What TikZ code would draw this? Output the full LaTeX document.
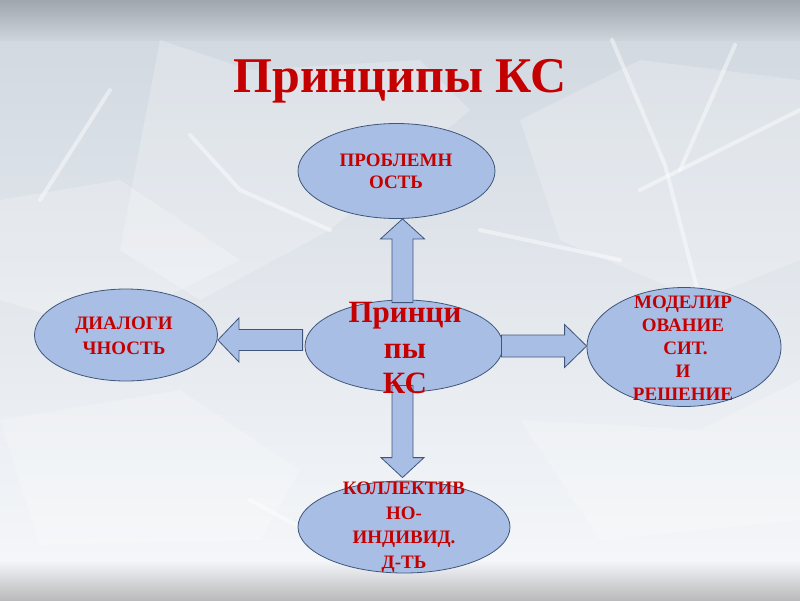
\documentclass[tikz,border=0pt]{standalone}
\usepackage{fontspec}
\setmainfont{Liberation Serif}
\usetikzlibrary{shapes.geometric,calc}
\definecolor{ellfill}{RGB}{169,190,229}
\definecolor{elldraw}{RGB}{62,86,122}
\definecolor{txtred}{RGB}{196,0,0}
\definecolor{bandtop}{RGB}{160,166,174}
\definecolor{bandbot}{RGB}{206,212,219}
\definecolor{bgtop}{RGB}{210,217,225}
\definecolor{bgbot}{RGB}{244,246,249}
\definecolor{footgray}{RGB}{186,186,188}
\tikzset{
  ell/.style={ellipse, draw=elldraw, fill=ellfill, line width=0.8pt, inner sep=0pt},
  blockarrow/.style={draw=elldraw, fill=ellfill, line width=0.8pt, line join=miter},
  lbl/.style={text=txtred, font=\bfseries, align=center, inner sep=0pt},
  ice/.style={fill=white, opacity=0.22, draw=none},
  icel/.style={draw=white, opacity=0.45, line width=4pt, line cap=round}
}
\newcommand\blockarr[5]{%
  \coordinate (bh) at ($(#2)!#5!(#1)$);
  \draw[blockarrow] ($(#1)!#3!90:(#2)$) -- ($(bh)!#3!90:(#2)$) -- ($(bh)!#4!90:(#2)$)
    -- (#2) -- ($(bh)!#4!-90:(#2)$) -- ($(bh)!#3!-90:(#2)$) -- ($(#1)!#3!-90:(#2)$) -- cycle;}
\begin{document}
\begin{tikzpicture}[x=1pt,y=-1pt]
\useasboundingbox (0,0) rectangle (800,600);
% background
\shade[top color=bgtop, bottom color=bgbot] (0,40) rectangle (800,560);
\shade[top color=bandtop, bottom color=bandbot] (0,0) rectangle (800,40);
\shade[top color=bgbot, bottom color=footgray] (0,560) rectangle (800,600);
% icy decoration
\fill[ice] (160,40) -- (250,70) -- (420,60) -- (470,110) -- (330,230) -- (200,300) -- (120,250) -- cycle;
\fill[ice] (0,200) -- (120,180) -- (240,260) -- (100,330) -- (0,300) -- cycle;
\fill[ice] (520,120) -- (640,60) -- (800,80) -- (800,260) -- (700,300) -- (560,240) -- cycle;
\fill[ice] (0,420) -- (180,390) -- (300,470) -- (260,540) -- (40,545) -- cycle;
\fill[ice] (520,420) -- (700,430) -- (800,380) -- (800,520) -- (600,540) -- cycle;
\draw[icel] (612,40) -- (665,165) -- (700,300);
\draw[icel] (735,45) -- (680,170);
\draw[icel] (800,110) -- (640,190);
\draw[icel] (190,135) -- (240,190) -- (330,230);
\draw[icel] (110,90) -- (40,200);
\draw[icel] (480,230) -- (620,260);
\draw[icel] (250,500) -- (360,560);
% title
\node[lbl, font=\bfseries\fontsize{50}{56}\selectfont, anchor=base] (title) at (400,92) {Принципы КС};
% ellipses
\node[ell, minimum width=197pt, minimum height=95pt] (T) at (396.5,171) {};
\node[ell, minimum width=198pt, minimum height=92pt] (C) at (404,346) {};
\node[ell, minimum width=183pt, minimum height=92pt] (L) at (126,335) {};
\node[ell, minimum width=194pt, minimum height=119pt] (R) at (684,347) {};
\node[ell, minimum width=212pt, minimum height=92pt] (B) at (404,527) {};
% block arrows
\coordinate (upA) at ($(C.north)+(-1.5,3)$);
\coordinate (upB) at ($(T.south)+(6,0)$);
\blockarr{upA}{upB}{10.5pt}{22pt}{20pt}
\coordinate (dnA) at ($(C.south)+(-1.5,-7)$);
\coordinate (dnB) at ($(B.north)+(-1.5,-3)$);
\blockarr{dnA}{dnB}{10.5pt}{21.5pt}{20pt}
\coordinate (ltA) at ($(C.west)+(-2,-6)$);
\coordinate (ltB) at ($(L.east)+(0,5)$);
\blockarr{ltA}{ltB}{10.5pt}{22pt}{21pt}
\coordinate (rtA) at ($(C.east)+(-2,0)$);
\coordinate (rtB) at ($(R.west)+(0,-1)$);
\blockarr{rtA}{rtB}{11pt}{21.5pt}{22pt}
% labels
\node[lbl, font=\bfseries\fontsize{19}{22}\selectfont] (tT) at (396,171) {ПРОБЛЕМН\\ОСТЬ};
\node[lbl, font=\bfseries\fontsize{31}{35.5}\selectfont] (tC) at (405,348) {Принци\\пы\\КС};
\node[lbl, font=\bfseries\fontsize{19}{25}\selectfont] (tL) at (124,336) {ДИАЛОГИ\\ЧНОСТЬ};
\node[lbl, font=\bfseries\fontsize{19}{23}\selectfont] (tR) at (683,348.5) {МОДЕЛИР\\ОВАНИЕ\\\hspace*{5pt}СИТ.\\И\\РЕШЕНИЕ};
\node[lbl, font=\bfseries\fontsize{19}{24.5}\selectfont] (tB) at (404,527) {КОЛЛЕКТИВ\\НО-\\ИНДИВИД.\\Д-ТЬ};
\end{tikzpicture}
\end{document}
